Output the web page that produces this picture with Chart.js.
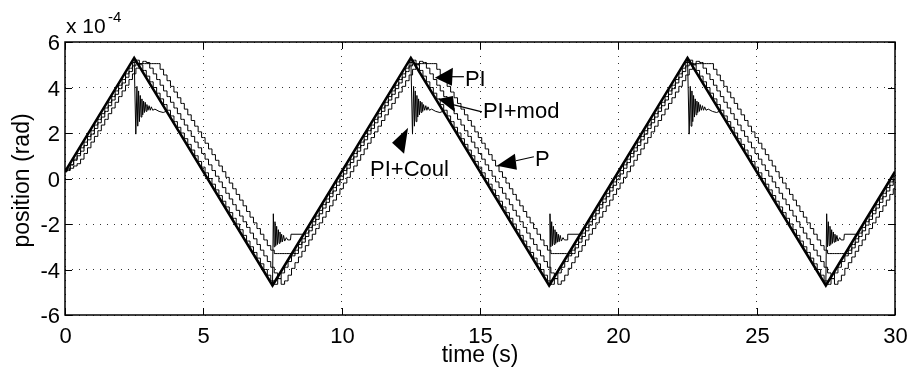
<!DOCTYPE html>
<html>
<head>
<meta charset="utf-8">
<script src="https://cdn.jsdelivr.net/npm/chart.js@4.4.1/dist/chart.umd.min.js"></script>
<style>
  html, body { margin: 0; padding: 0; background: #fff; }
  canvas { display: block; }
</style>
</head>
<body>
<canvas id="chart" width="909" height="373"></canvas>
<script>
// position (units of 1e-4 rad) against time (s)

const X_TICKS = [0, 5, 10, 15, 20, 25, 30];
const Y_TICKS = [-6, -4, -2, 0, 2, 4, 6];

// reference triangle (bold line)
const REF_T = [0, 2.5, 7.5, 12.5, 17.5, 22.5, 27.5, 30];
const REF_V = [0.3, 5.3, -4.7, 5.3, -4.7, 5.3, -4.7, 0.3];

// sample times of the quantised encoder traces
const TIMES = [
  0, 0.125, 0.25, 0.375, 0.5, 0.625, 0.75, 0.875,
  1, 1.125, 1.25, 1.375, 1.5, 1.625, 1.75, 1.875,
  2, 2.125, 2.25, 2.375, 2.5, 2.625, 2.75, 2.875,
  3, 3.125, 3.25, 3.375, 3.5, 3.625, 3.75, 3.875,
  4, 4.125, 4.25, 4.375, 4.5, 4.625, 4.75, 4.875,
  5, 5.125, 5.25, 5.375, 5.5, 5.625, 5.75, 5.875,
  6, 6.125, 6.25, 6.375, 6.5, 6.625, 6.75, 6.875,
  7, 7.125, 7.25, 7.375, 7.5, 7.625, 7.75, 7.875,
  8, 8.125, 8.25, 8.375, 8.5, 8.625, 8.75, 8.875,
  9, 9.125, 9.25, 9.375, 9.5, 9.625, 9.75, 9.875,
  10, 10.125, 10.25, 10.375, 10.5, 10.625, 10.75, 10.875,
  11, 11.125, 11.25, 11.375, 11.5, 11.625, 11.75, 11.875,
  12, 12.125, 12.25, 12.375, 12.5, 12.625, 12.75, 12.875,
  13, 13.125, 13.25, 13.375, 13.5, 13.625, 13.75, 13.875,
  14, 14.125, 14.25, 14.375, 14.5, 14.625, 14.75, 14.875,
  15, 15.125, 15.25, 15.375, 15.5, 15.625, 15.75, 15.875,
  16, 16.125, 16.25, 16.375, 16.5, 16.625, 16.75, 16.875,
  17, 17.125, 17.25, 17.375, 17.5, 17.625, 17.75, 17.875,
  18, 18.125, 18.25, 18.375, 18.5, 18.625, 18.75, 18.875,
  19, 19.125, 19.25, 19.375, 19.5, 19.625, 19.75, 19.875,
  20, 20.125, 20.25, 20.375, 20.5, 20.625, 20.75, 20.875,
  21, 21.125, 21.25, 21.375, 21.5, 21.625, 21.75, 21.875,
  22, 22.125, 22.25, 22.375, 22.5, 22.625, 22.75, 22.875,
  23, 23.125, 23.25, 23.375, 23.5, 23.625, 23.75, 23.875,
  24, 24.125, 24.25, 24.375, 24.5, 24.625, 24.75, 24.875,
  25, 25.125, 25.25, 25.375, 25.5, 25.625, 25.75, 25.875,
  26, 26.125, 26.25, 26.375, 26.5, 26.625, 26.75, 26.875,
  27, 27.125, 27.25, 27.375, 27.5, 27.625, 27.75, 27.875,
  28, 28.125, 28.25, 28.375, 28.5, 28.625, 28.75, 28.875,
  29, 29.125, 29.25, 29.375, 29.5, 29.625, 29.75, 29.875,
  30
];

const P_VALUES = [
  0.3, 0.45, 0.6, 0.8, 1.0, 1.2, 1.45, 1.7,
  1.95, 2.2, 2.45, 2.7, 2.95, 3.2, 3.45, 3.7,
  3.95, 4.2, 4.45, 4.7, 4.95, 5.05, 5.05, 5.05,
  5.05, 5.05, 5.05, 5.05, 4.8, 4.55, 4.3, 4.05,
  3.8, 3.55, 3.3, 3.05, 2.8, 2.55, 2.3, 2.05,
  1.8, 1.55, 1.3, 1.05, 0.8, 0.55, 0.3, 0.05,
  -0.2, -0.45, -0.7, -0.95, -1.2, -1.45, -1.7, -1.95,
  -2.2, -2.45, -2.7, -2.95, -3.15, -3.3, -3.3, -3.3,
  -3.3, -3.3, -3.3, -3.3, -3.05, -2.8, -2.55, -2.3,
  -2.05, -1.8, -1.55, -1.3, -1.05, -0.8, -0.55, -0.3,
  -0.05, 0.2, 0.45, 0.7, 0.95, 1.2, 1.45, 1.7,
  1.95, 2.2, 2.45, 2.7, 2.95, 3.2, 3.45, 3.7,
  3.95, 4.2, 4.45, 4.7, 4.95, 5.05, 5.05, 5.05,
  5.05, 5.05, 5.05, 5.05, 4.8, 4.55, 4.3, 4.05,
  3.8, 3.55, 3.3, 3.05, 2.8, 2.55, 2.3, 2.05,
  1.8, 1.55, 1.3, 1.05, 0.8, 0.55, 0.3, 0.05,
  -0.2, -0.45, -0.7, -0.95, -1.2, -1.45, -1.7, -1.95,
  -2.2, -2.45, -2.7, -2.95, -3.15, -3.3, -3.3, -3.3,
  -3.3, -3.3, -3.3, -3.3, -3.05, -2.8, -2.55, -2.3,
  -2.05, -1.8, -1.55, -1.3, -1.05, -0.8, -0.55, -0.3,
  -0.05, 0.2, 0.45, 0.7, 0.95, 1.2, 1.45, 1.7,
  1.95, 2.2, 2.45, 2.7, 2.95, 3.2, 3.45, 3.7,
  3.95, 4.2, 4.45, 4.7, 4.95, 5.05, 5.05, 5.05,
  5.05, 5.05, 5.05, 5.05, 4.8, 4.55, 4.3, 4.05,
  3.8, 3.55, 3.3, 3.05, 2.8, 2.55, 2.3, 2.05,
  1.8, 1.55, 1.3, 1.05, 0.8, 0.55, 0.3, 0.05,
  -0.2, -0.45, -0.7, -0.95, -1.2, -1.45, -1.7, -1.95,
  -2.2, -2.45, -2.7, -2.95, -3.15, -3.3, -3.3, -3.3,
  -3.3, -3.3, -3.3, -3.3, -3.05, -2.8, -2.55, -2.3,
  -2.05, -1.8, -1.55, -1.3, -1.05, -0.8, -0.55, -0.3,
  -0.05
];

const PI_VALUES = [
  0.3, 0.35, 0.45, 0.55, 0.65, 0.85, 1.1, 1.35,
  1.6, 1.85, 2.1, 2.35, 2.6, 2.85, 3.1, 3.35,
  3.6, 3.85, 4.1, 4.35, 4.6, 4.85, 5.05, 5.15,
  5.1, 4.85, 4.6, 4.35, 4.1, 3.85, 3.6, 3.35,
  3.1, 2.85, 2.6, 2.35, 2.1, 1.85, 1.6, 1.35,
  1.1, 0.85, 0.6, 0.35, 0.1, -0.15, -0.4, -0.65,
  -0.9, -1.15, -1.4, -1.65, -1.9, -2.15, -2.4, -2.65,
  -2.9, -3.15, -3.4, -3.65, -3.9, -4.15, -4.4, -4.65,
  -4.5, -4.25, -3.95, -3.7, -3.45, -3.2, -2.95, -2.7,
  -2.45, -2.2, -1.95, -1.7, -1.45, -1.2, -0.95, -0.7,
  -0.45, -0.2, 0.05, 0.3, 0.55, 0.8, 1.05, 1.3,
  1.55, 1.8, 2.05, 2.3, 2.55, 2.8, 3.05, 3.3,
  3.55, 3.8, 4.05, 4.3, 4.55, 4.8, 5.0, 5.15,
  5.1, 4.85, 4.6, 4.35, 4.1, 3.85, 3.6, 3.35,
  3.1, 2.85, 2.6, 2.35, 2.1, 1.85, 1.6, 1.35,
  1.1, 0.85, 0.6, 0.35, 0.1, -0.15, -0.4, -0.65,
  -0.9, -1.15, -1.4, -1.65, -1.9, -2.15, -2.4, -2.65,
  -2.9, -3.15, -3.4, -3.65, -3.9, -4.15, -4.4, -4.65,
  -4.5, -4.25, -3.95, -3.7, -3.45, -3.2, -2.95, -2.7,
  -2.45, -2.2, -1.95, -1.7, -1.45, -1.2, -0.95, -0.7,
  -0.45, -0.2, 0.05, 0.3, 0.55, 0.8, 1.05, 1.3,
  1.55, 1.8, 2.05, 2.3, 2.55, 2.8, 3.05, 3.3,
  3.55, 3.8, 4.05, 4.3, 4.55, 4.8, 5.0, 5.15,
  5.1, 4.85, 4.6, 4.35, 4.1, 3.85, 3.6, 3.35,
  3.1, 2.85, 2.6, 2.35, 2.1, 1.85, 1.6, 1.35,
  1.1, 0.85, 0.6, 0.35, 0.1, -0.15, -0.4, -0.65,
  -0.9, -1.15, -1.4, -1.65, -1.9, -2.15, -2.4, -2.65,
  -2.9, -3.15, -3.4, -3.65, -3.9, -4.15, -4.4, -4.65,
  -4.5, -4.25, -3.95, -3.7, -3.45, -3.2, -2.95, -2.7,
  -2.45, -2.2, -1.95, -1.7, -1.45, -1.2, -0.95, -0.7,
  -0.45
];

const PI_MOD_VALUES = [
  0.3, 0.4, 0.6, 0.85, 1.1, 1.35, 1.6, 1.85,
  2.1, 2.35, 2.6, 2.85, 3.1, 3.35, 3.6, 3.85,
  4.1, 4.35, 4.6, 4.85, 5.1, 5.2, 5.0, 4.75,
  4.5, 4.25, 4.0, 3.75, 3.5, 3.25, 3.0, 2.75,
  2.5, 2.25, 2.0, 1.75, 1.5, 1.25, 1.0, 0.75,
  0.5, 0.25, 0.0, -0.25, -0.5, -0.75, -1.0, -1.25,
  -1.5, -1.75, -2.0, -2.25, -2.5, -2.75, -3.0, -3.25,
  -3.5, -3.75, -4.0, -4.25, -4.5, -4.65, -4.4, -4.15,
  -3.9, -3.65, -3.4, -3.15, -2.9, -2.65, -2.4, -2.15,
  -1.9, -1.65, -1.4, -1.15, -0.9, -0.65, -0.4, -0.15,
  0.1, 0.35, 0.6, 0.85, 1.1, 1.35, 1.6, 1.85,
  2.1, 2.35, 2.6, 2.85, 3.1, 3.35, 3.6, 3.85,
  4.1, 4.35, 4.6, 4.85, 5.1, 5.2, 5.0, 4.75,
  4.5, 4.25, 4.0, 3.75, 3.5, 3.25, 3.0, 2.75,
  2.5, 2.25, 2.0, 1.75, 1.5, 1.25, 1.0, 0.75,
  0.5, 0.25, 0.0, -0.25, -0.5, -0.75, -1.0, -1.25,
  -1.5, -1.75, -2.0, -2.25, -2.5, -2.75, -3.0, -3.25,
  -3.5, -3.75, -4.0, -4.25, -4.5, -4.65, -4.4, -4.15,
  -3.9, -3.65, -3.4, -3.15, -2.9, -2.65, -2.4, -2.15,
  -1.9, -1.65, -1.4, -1.15, -0.9, -0.65, -0.4, -0.15,
  0.1, 0.35, 0.6, 0.85, 1.1, 1.35, 1.6, 1.85,
  2.1, 2.35, 2.6, 2.85, 3.1, 3.35, 3.6, 3.85,
  4.1, 4.35, 4.6, 4.85, 5.1, 5.2, 5.0, 4.75,
  4.5, 4.25, 4.0, 3.75, 3.5, 3.25, 3.0, 2.75,
  2.5, 2.25, 2.0, 1.75, 1.5, 1.25, 1.0, 0.75,
  0.5, 0.25, 0.0, -0.25, -0.5, -0.75, -1.0, -1.25,
  -1.5, -1.75, -2.0, -2.25, -2.5, -2.75, -3.0, -3.25,
  -3.5, -3.75, -4.0, -4.25, -4.5, -4.65, -4.4, -4.15,
  -3.9, -3.65, -3.4, -3.15, -2.9, -2.65, -2.4, -2.15,
  -1.9, -1.65, -1.4, -1.15, -0.9, -0.65, -0.4, -0.15,
  0.1
];

// PI+Coul: follows the reference, rings after each reversal
const COUL_T = [
  0,
  2.5, 2.56, 2.6, 2.63, 2.66, 2.69, 2.72, 2.75, 2.78, 2.81, 2.84, 2.87,
  2.9, 2.93, 2.96, 3.0, 3.04, 3.08, 3.12, 3.17, 3.25, 3.4, 3.55, 3.67,
  7.5, 7.53, 7.56, 7.59, 7.62, 7.65, 7.68, 7.71, 7.74, 7.77, 7.8, 7.83,
  7.86, 7.9, 7.94, 8.0, 8.05, 8.15, 8.17, 8.62,
  12.5, 12.56, 12.6, 12.63, 12.66, 12.69, 12.72, 12.75, 12.78, 12.81, 12.84, 12.87,
  12.9, 12.93, 12.96, 13.0, 13.04, 13.08, 13.12, 13.17, 13.25, 13.4, 13.55, 13.67,
  17.5, 17.53, 17.56, 17.59, 17.62, 17.65, 17.68, 17.71, 17.74, 17.77, 17.8, 17.83,
  17.86, 17.9, 17.94, 18.0, 18.05, 18.15, 18.17, 18.62,
  22.5, 22.56, 22.6, 22.63, 22.66, 22.69, 22.72, 22.75, 22.78, 22.81, 22.84, 22.87,
  22.9, 22.93, 22.96, 23.0, 23.04, 23.08, 23.12, 23.17, 23.25, 23.4, 23.55, 23.67,
  27.5, 27.53, 27.56, 27.59, 27.62, 27.65, 27.68, 27.71, 27.74, 27.77, 27.8, 27.83,
  27.86, 27.9, 27.94, 28.0, 28.05, 28.15, 28.17, 28.62,
  30
];
const COUL_V = [
  0.3,
  5.3, 1.95, 4.05, 2.3, 3.85, 2.5, 3.65, 2.7, 3.5, 2.8, 3.4, 2.9,
  3.35, 2.95, 3.25, 3.0, 3.2, 3.0, 3.15, 3.0, 3.05, 2.95, 2.9, 2.96,
  -4.7, -1.55, -3.0, -1.9, -2.95, -2.1, -2.9, -2.25, -2.85, -2.35, -2.8, -2.45,
  -2.78, -2.5, -2.75, -2.6, -2.7, -2.7, -2.45, -2.45,
  5.3, 1.95, 4.05, 2.3, 3.85, 2.5, 3.65, 2.7, 3.5, 2.8, 3.4, 2.9,
  3.35, 2.95, 3.25, 3.0, 3.2, 3.0, 3.15, 3.0, 3.05, 2.95, 2.9, 2.96,
  -4.7, -1.55, -3.0, -1.9, -2.95, -2.1, -2.9, -2.25, -2.85, -2.35, -2.8, -2.45,
  -2.78, -2.5, -2.75, -2.6, -2.7, -2.7, -2.45, -2.45,
  5.3, 1.95, 4.05, 2.3, 3.85, 2.5, 3.65, 2.7, 3.5, 2.8, 3.4, 2.9,
  3.35, 2.95, 3.25, 3.0, 3.2, 3.0, 3.15, 3.0, 3.05, 2.95, 2.9, 2.96,
  -4.7, -1.55, -3.0, -1.9, -2.95, -2.1, -2.9, -2.25, -2.85, -2.35, -2.8, -2.45,
  -2.78, -2.5, -2.75, -2.6, -2.7, -2.7, -2.45, -2.45,
  0.3
];

// arrow tips in data units
const LABELS = [
  { text: 'PI', t: 13.37, v: 4.43 },
  { text: 'PI+mod', t: 13.48, v: 3.5 },
  { text: 'PI+Coul', t: 12.4, v: 2.23 },
  { text: 'P', t: 15.61, v: 0.56 }
];

const FONT = '"Liberation Sans", Arial, Helvetica, sans-serif';

function series(times, values) {
  return times.map((t, i) => ({ x: t, y: values[i] }));
}

function drawText(ctx, str, x, y, size, align, baseline, rotate) {
  ctx.save();
  ctx.translate(x, y);
  if (rotate) ctx.rotate(rotate);
  ctx.font = `${size}px ${FONT}`;
  ctx.textAlign = align;
  ctx.textBaseline = baseline;
  ctx.fillStyle = '#000';
  ctx.fillText(str, 0, 0);
  ctx.restore();
}

function tri(ctx, pts) {
  ctx.beginPath();
  ctx.moveTo(pts[0][0], pts[0][1]);
  ctx.lineTo(pts[1][0], pts[1][1]);
  ctx.lineTo(pts[2][0], pts[2][1]);
  ctx.closePath();
  ctx.fill();
}

function seg(ctx, x1, y1, x2, y2) {
  ctx.beginPath();
  ctx.moveTo(x1, y1);
  ctx.lineTo(x2, y2);
  ctx.stroke();
}

const frame = {
  id: 'frame',
  afterDraw(chart) {
    const { ctx, chartArea: a, scales: { x, y } } = chart;
    ctx.save();
    ctx.strokeStyle = '#000';
    ctx.fillStyle = '#000';

    // box and inward ticks on all four sides
    ctx.lineWidth = 1.5;
    ctx.strokeRect(a.left, a.top, a.right - a.left, a.bottom - a.top);
    ctx.lineWidth = 1;
    X_TICKS.forEach((v) => {
      const px = Math.round(x.getPixelForValue(v)) + 0.5;
      seg(ctx, px, a.bottom, px, a.bottom - 7);
      seg(ctx, px, a.top, px, a.top + 7);
      drawText(ctx, String(v), px, a.bottom + 28, 22, 'center', 'alphabetic');
    });
    Y_TICKS.forEach((v) => {
      const py = Math.round(y.getPixelForValue(v)) + 0.5;
      seg(ctx, a.left, py, a.left + 7, py);
      seg(ctx, a.right, py, a.right - 7, py);
      drawText(ctx, String(v), a.left - 5, py + 1, 22, 'right', 'middle');
    });

    // axis titles and exponent
    drawText(ctx, 'time (s)', (a.left + a.right) / 2, a.bottom + 47, 23, 'center', 'alphabetic');
    drawText(ctx, 'position (rad)', 23, (a.top + a.bottom) / 2 + 2, 23, 'center', 'middle', -Math.PI / 2);
    drawText(ctx, 'x 10', a.left + 1, 33, 21, 'left', 'alphabetic');
    drawText(ctx, '-4', a.left + 43, 22, 15, 'left', 'alphabetic');

    // arrows and curve names
    ctx.lineWidth = 1.2;
    const tip = LABELS.map((l) => [x.getPixelForValue(l.t), y.getPixelForValue(l.v)]);

    let [tx, ty] = tip[0];
    tri(ctx, [[tx, ty], [tx + 18, ty - 10], [tx + 17, ty + 8]]);
    seg(ctx, tx + 17, ty - 1, tx + 29, ty - 1);
    drawText(ctx, LABELS[0].text, tx + 30, ty + 8, 22, 'left', 'alphabetic');

    [tx, ty] = tip[1];
    tri(ctx, [[tx, ty], [tx + 15, ty - 3], [tx + 17, ty + 13]]);
    seg(ctx, tx + 16, ty + 6, tx + 44, ty + 13);
    drawText(ctx, LABELS[1].text, tx + 45, ty + 19, 22, 'left', 'alphabetic');

    [tx, ty] = tip[2];
    tri(ctx, [[tx, ty], [tx - 16, ty + 15], [tx - 4, ty + 26]]);
    drawText(ctx, LABELS[2].text, tx - 38, ty + 48, 22, 'left', 'alphabetic');

    [tx, ty] = tip[3];
    tri(ctx, [[tx, ty], [tx + 18, ty - 12], [tx + 20, ty + 4]]);
    seg(ctx, tx + 19, ty - 5, tx + 37, ty - 9);
    drawText(ctx, LABELS[3].text, tx + 38, ty, 22, 'left', 'alphabetic');

    ctx.restore();
  }
};

const thin = { borderColor: '#000', borderWidth: 1, pointRadius: 0, fill: false };

new Chart(document.getElementById('chart'), {
  type: 'line',
  data: {
    datasets: [
      { label: 'reference', data: series(REF_T, REF_V), borderColor: '#000', borderWidth: 2.6, pointRadius: 0, fill: false },
      { label: 'PI+Coul', data: series(COUL_T, COUL_V), ...thin },
      { label: 'PI+mod', data: series(TIMES, PI_MOD_VALUES), stepped: 'middle', ...thin },
      { label: 'PI', data: series(TIMES, PI_VALUES), stepped: 'middle', ...thin },
      { label: 'P', data: series(TIMES, P_VALUES), stepped: 'middle', ...thin }
    ]
  },
  options: {
    responsive: false,
    devicePixelRatio: 1,
    animation: false,
    layout: { padding: { left: 65, right: 14, top: 42, bottom: 58 } },
    plugins: { legend: { display: false }, tooltip: { enabled: false } },
    scales: {
      x: {
        type: 'linear', min: 0, max: 30,
        ticks: { stepSize: 5, display: false },
        grid: { color: '#333', lineWidth: 1, drawTicks: false },
        border: { display: false, dash: [1, 6] }
      },
      y: {
        type: 'linear', min: -6, max: 6,
        ticks: { stepSize: 2, display: false },
        grid: { color: '#333', lineWidth: 1, drawTicks: false },
        border: { display: false, dash: [1, 6] }
      }
    }
  },
  plugins: [frame]
});
</script>
</body>
</html>
